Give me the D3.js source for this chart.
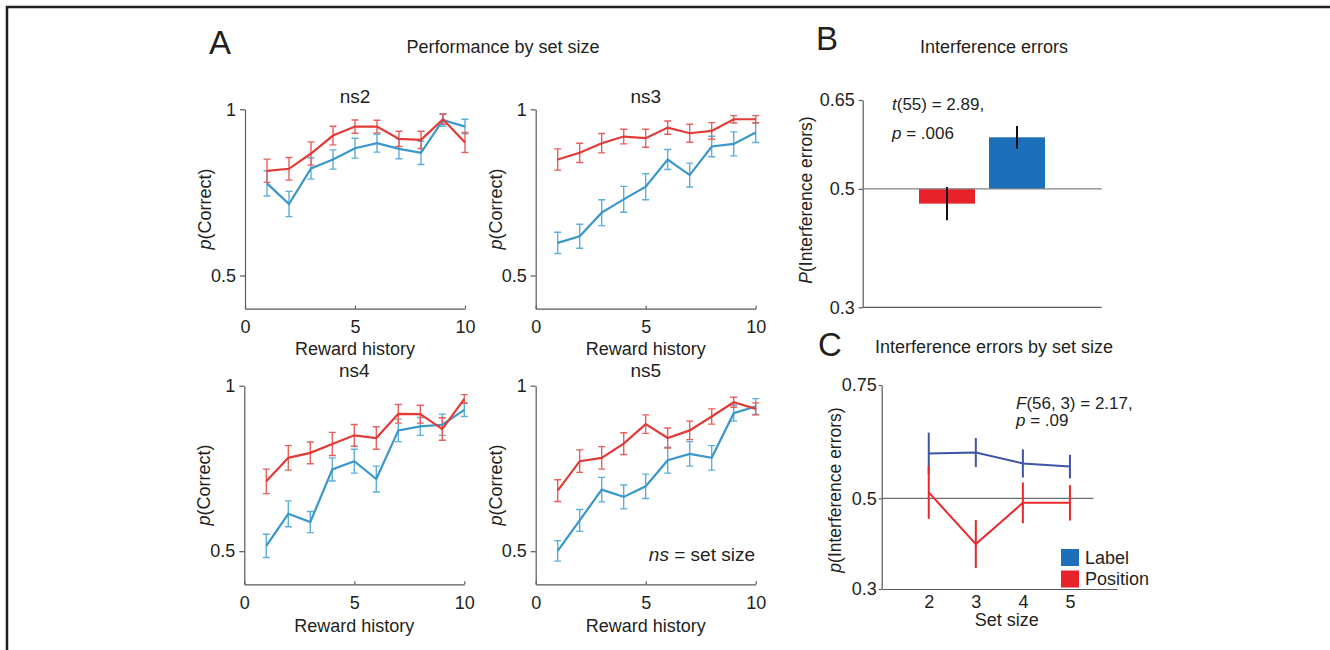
<!DOCTYPE html>
<html>
<head>
<meta charset="utf-8">
<script src="https://cdn.jsdelivr.net/npm/d3@7/dist/d3.min.js"></script>
<style>
  body { margin: 0; background: #fff; }
  svg text { font-family: "Liberation Sans", Arial, Helvetica, sans-serif; fill: #231f20; }
</style>
</head>
<body>
<div id="wrapper"></div>
<script>
// ---- data ----
const rewardHistory = [1, 2, 3, 4, 5, 6, 7, 8, 9, 10];

const ns2Red     = [0.815, 0.821, 0.867, 0.921, 0.948, 0.948, 0.911, 0.908, 0.970, 0.900];
const ns2RedErr  = [0.035, 0.034, 0.035, 0.028, 0.020, 0.019, 0.023, 0.026, 0.015, 0.030];
const ns2Blue    = [0.777, 0.715, 0.822, 0.849, 0.883, 0.898, 0.881, 0.869, 0.968, 0.948];
const ns2BlueErr = [0.038, 0.038, 0.032, 0.029, 0.030, 0.027, 0.030, 0.035, 0.019, 0.022];

const ns3Red     = [0.849, 0.869, 0.898, 0.918, 0.913, 0.945, 0.928, 0.935, 0.970, 0.970];
const ns3RedErr  = [0.032, 0.029, 0.029, 0.022, 0.027, 0.020, 0.027, 0.025, 0.011, 0.011];
const ns3Blue    = [0.598, 0.618, 0.689, 0.729, 0.767, 0.849, 0.802, 0.888, 0.896, 0.930];
const ns3BlueErr = [0.032, 0.036, 0.039, 0.039, 0.039, 0.030, 0.036, 0.031, 0.036, 0.030];

const ns4Red     = [0.711, 0.782, 0.797, 0.824, 0.850, 0.842, 0.915, 0.914, 0.869, 0.960];
const ns4RedErr  = [0.037, 0.037, 0.033, 0.035, 0.033, 0.034, 0.028, 0.027, 0.034, 0.013];
const ns4Blue    = [0.516, 0.613, 0.588, 0.747, 0.772, 0.718, 0.865, 0.877, 0.882, 0.927];
const ns4BlueErr = [0.035, 0.039, 0.032, 0.035, 0.036, 0.039, 0.034, 0.027, 0.032, 0.020];

const ns5Red     = [0.683, 0.772, 0.782, 0.825, 0.884, 0.842, 0.865, 0.907, 0.950, 0.930];
const ns5RedErr  = [0.033, 0.034, 0.034, 0.033, 0.028, 0.030, 0.028, 0.023, 0.015, 0.018];
const ns5Blue    = [0.501, 0.593, 0.686, 0.664, 0.696, 0.775, 0.794, 0.782, 0.917, 0.937];
const ns5BlueErr = [0.031, 0.033, 0.037, 0.036, 0.037, 0.039, 0.037, 0.037, 0.024, 0.024];

const perfYTicks = [0.5, 1];
const perfXTicks = [0, 5, 10];

const barCategories = ["Position", "Label"];
const barValues = [0.475, 0.587];
const barErr = [0.028, 0.019];
const barYTicks = [0.3, 0.5, 0.65];

const setSizes = [2, 3, 4, 5];
const labelBySize = [0.599, 0.601, 0.577, 0.570];
const labelBySizeErr = [0.046, 0.032, 0.031, 0.026];
const positionBySize = [0.513, 0.399, 0.490, 0.490];
const positionBySizeErr = [0.058, 0.053, 0.045, 0.039];
const sizeYTicks = [0.3, 0.5, 0.75];

const legendLabels = ["Label", "Position"];

// ---- colours ----
const perfRed = "#e23a37", perfRedErr = "#e6605c";
const perfBlue = "#3a97cb", perfBlueErr = "#5eaedb";
const barColors = { Position: "#e8222a", Label: "#1c6fb8" };
const sizeBlue = "#3d55a8", sizeRed = "#e8282d";
const axisColor = "#58595b";
const fs = 18; // most text in the figure

const svg = d3.select("#wrapper")
  .append("svg")
  .attr("width", 1330)
  .attr("height", 650);

// page frame
svg.append("path")
  .attr("d", "M7,650 V7 H1330")
  .attr("fill", "none")
  .attr("stroke", "#231f20")
  .attr("stroke-width", 2.5);

function styleAxis(g, size) {
  g.attr("font-size", size).attr("font-family", null);
  g.selectAll("path.domain").attr("stroke", axisColor).attr("stroke-width", 1.2);
  g.selectAll(".tick line").attr("stroke", axisColor).attr("stroke-width", 1.2);
  g.selectAll(".tick text").attr("fill", "#231f20").attr("font-size", size);
}

function rotatedLabel(x, y, italic, rest, size) {
  const t = svg.append("text")
    .attr("transform", `translate(${x},${y}) rotate(-90)`)
    .attr("text-anchor", "middle")
    .attr("font-size", size);
  t.append("tspan").attr("font-style", "italic").text(italic);
  t.append("tspan").text(rest);
}

// ---- panel A ----
const perfPanels = [
  { name: "ns2", red: ns2Red, redErr: ns2RedErr, blue: ns2Blue, blueErr: ns2BlueErr, left: 245, top: 109.3, bottom: 308.7, titleOff: 6, labelOff: 46 },
  { name: "ns3", red: ns3Red, redErr: ns3RedErr, blue: ns3Blue, blueErr: ns3BlueErr, left: 535.7, top: 109.3, bottom: 308.7, titleOff: 6, labelOff: 46 },
  { name: "ns4", red: ns4Red, redErr: ns4RedErr, blue: ns4Blue, blueErr: ns4BlueErr, left: 244.3, top: 385.7, bottom: 584.3, titleOff: 9, labelOff: 48 },
  { name: "ns5", red: ns5Red, redErr: ns5RedErr, blue: ns5Blue, blueErr: ns5BlueErr, left: 535.7, top: 385.7, bottom: 584.3, titleOff: 9, labelOff: 48 }
];

function drawPerf(p) {
  const xScale = d3.scaleLinear().domain([0, 10]).range([p.left, p.left + 220]);
  const yScale = d3.scaleLinear().domain([0.4, 1]).range([p.bottom, p.top]);

  const yAxis = svg.append("g")
    .attr("transform", `translate(${p.left},0)`)
    .call(d3.axisLeft(yScale).tickValues(perfYTicks).tickFormat(d => d === 1 ? "1" : d3.format(".1f")(d))
      .tickSize(5).tickSizeOuter(0).tickPadding(4));
  styleAxis(yAxis, fs);

  const xAxis = svg.append("g")
    .attr("transform", `translate(0,${p.bottom})`)
    .call(d3.axisBottom(xScale).tickValues(perfXTicks).tickSize(-3).tickSizeOuter(0).tickPadding(12));
  styleAxis(xAxis, fs);

  svg.append("text")
    .attr("x", p.left + 110)
    .attr("y", p.top - p.titleOff)
    .attr("text-anchor", "middle")
    .attr("font-size", 19)
    .text(p.name);

  svg.append("text")
    .attr("x", p.left + 110)
    .attr("y", p.bottom + p.labelOff)
    .attr("text-anchor", "middle")
    .attr("font-size", fs)
    .text("Reward history");

  rotatedLabel(p.left - 34, (p.top + p.bottom) / 2, "p", "(Correct)", fs);

  const line = d3.line().x((d, i) => xScale(rewardHistory[i])).y(d => yScale(d));
  const series = [
    { vals: p.blue, err: p.blueErr, col: perfBlue, errCol: perfBlueErr },
    { vals: p.red, err: p.redErr, col: perfRed, errCol: perfRedErr }
  ];
  series.forEach(s => {
    const errPath = s.vals.map((v, i) => {
      const x = xScale(rewardHistory[i]);
      const y0 = yScale(v - s.err[i]), y1 = yScale(v + s.err[i]);
      return `M${x},${y0}V${y1}M${x - 3.5},${y0}H${x + 3.5}M${x - 3.5},${y1}H${x + 3.5}`;
    }).join("");
    svg.append("path")
      .attr("d", errPath)
      .attr("fill", "none")
      .attr("stroke", s.errCol)
      .attr("stroke-width", 1.4);
  });
  series.forEach(s => {
    svg.append("path")
      .datum(s.vals)
      .attr("d", line)
      .attr("fill", "none")
      .attr("stroke", s.col)
      .attr("stroke-width", 2.2);
  });
}
perfPanels.forEach(drawPerf);

svg.append("text").attr("x", 209).attr("y", 54).attr("font-size", 33).text("A");
svg.append("text").attr("x", 503).attr("y", 53).attr("text-anchor", "middle").attr("font-size", fs).text("Performance by set size");

const nsNote = svg.append("text").attr("x", 755).attr("y", 561).attr("text-anchor", "end").attr("font-size", 19);
nsNote.append("tspan").attr("font-style", "italic").text("ns");
nsNote.append("tspan").text(" = set size");

// ---- panel B ----
function drawBars() {
  const left = 862.7, right = 1101.7;
  const yScale = d3.scaleLinear().domain([0.3, 0.65]).range([307.3, 100]);
  const xScale = d3.scaleBand().domain(barCategories).range([919, 1045]).paddingInner(0.2).paddingOuter(0);

  svg.selectAll(".bar")
    .data(barCategories)
    .join("rect")
    .attr("x", d => xScale(d))
    .attr("width", xScale.bandwidth())
    .attr("y", (d, i) => Math.min(yScale(barValues[i]), yScale(0.5)))
    .attr("height", (d, i) => Math.abs(yScale(barValues[i]) - yScale(0.5)))
    .attr("fill", d => barColors[d]);

  const yAxis = svg.append("g")
    .attr("transform", `translate(${left},0)`)
    .call(d3.axisLeft(yScale).tickValues(barYTicks).tickFormat(d => d === 0.65 ? "0.65" : d3.format(".1f")(d))
      .tickSize(4).tickSizeOuter(0).tickPadding(4));
  styleAxis(yAxis, fs);

  svg.append("line").attr("x1", left).attr("x2", right).attr("y1", yScale(0.3)).attr("y2", yScale(0.3))
    .attr("stroke", axisColor).attr("stroke-width", 1.2);
  svg.append("line").attr("x1", left).attr("x2", right).attr("y1", yScale(0.5)).attr("y2", yScale(0.5))
    .attr("stroke", "#808285").attr("stroke-width", 1.2);

  svg.selectAll(".barErr")
    .data(barCategories)
    .join("line")
    .attr("x1", d => xScale(d) + xScale.bandwidth() / 2)
    .attr("x2", d => xScale(d) + xScale.bandwidth() / 2)
    .attr("y1", (d, i) => yScale(barValues[i] - barErr[i]))
    .attr("y2", (d, i) => yScale(barValues[i] + barErr[i]))
    .attr("stroke", "#111")
    .attr("stroke-width", 2);

  rotatedLabel(812, 200, "P", "(Interference errors)", 17.5);

  const t1 = svg.append("text").attr("x", 892).attr("y", 110).attr("font-size", 17);
  t1.append("tspan").attr("font-style", "italic").text("t");
  t1.append("tspan").text("(55) = 2.89,");
  const t2 = svg.append("text").attr("x", 892).attr("y", 139).attr("font-size", 17);
  t2.append("tspan").attr("font-style", "italic").text("p");
  t2.append("tspan").text(" = .006");
}
drawBars();

svg.append("text").attr("x", 816).attr("y", 50).attr("font-size", 33).text("B");
svg.append("text").attr("x", 994).attr("y", 53).attr("text-anchor", "middle").attr("font-size", fs).text("Interference errors");

// ---- panel C ----
function drawBySize() {
  const xScale = d3.scaleLinear().domain([1, 6]).range([881.7, 1117]);
  const yScale = d3.scaleLinear().domain([0.3, 0.75]).range([589, 385]);

  const yAxis = svg.append("g")
    .attr("transform", `translate(${xScale(1)},0)`)
    .call(d3.axisLeft(yScale).tickValues(sizeYTicks).tickFormat(d => d === 0.75 ? "0.75" : d3.format(".1f")(d))
      .tickSize(3).tickSizeOuter(0).tickPadding(2));
  styleAxis(yAxis, fs);

  const xAxis = svg.append("g")
    .attr("transform", `translate(0,${yScale(0.3)})`)
    .call(d3.axisBottom(xScale).tickValues(setSizes).tickFormat(d3.format("d")).tickSize(0).tickSizeOuter(0).tickPadding(6));
  styleAxis(xAxis, fs);

  svg.append("line").attr("x1", xScale(1)).attr("x2", xScale(5.5)).attr("y1", yScale(0.5)).attr("y2", yScale(0.5))
    .attr("stroke", "#6d6e71").attr("stroke-width", 1.2);

  const line = d3.line().x((d, i) => xScale(setSizes[i])).y(d => yScale(d));
  const series = [
    { vals: labelBySize, err: labelBySizeErr, col: sizeBlue },
    { vals: positionBySize, err: positionBySizeErr, col: sizeRed }
  ];
  series.forEach(s => {
    svg.append("path")
      .datum(s.vals)
      .attr("d", line)
      .attr("fill", "none")
      .attr("stroke", s.col)
      .attr("stroke-width", 2);
    svg.append("g")
      .selectAll("line")
      .data(s.vals)
      .join("line")
      .attr("x1", (d, i) => xScale(setSizes[i]))
      .attr("x2", (d, i) => xScale(setSizes[i]))
      .attr("y1", (d, i) => yScale(d - s.err[i]))
      .attr("y2", (d, i) => yScale(d + s.err[i]))
      .attr("stroke", s.col)
      .attr("stroke-width", 2);
  });

  svg.append("text").attr("x", 1006.7).attr("y", 626).attr("text-anchor", "middle").attr("font-size", fs).text("Set size");
  rotatedLabel(841, 490, "p", "(Interference errors)", 17.5);

  const f1 = svg.append("text").attr("x", 1016).attr("y", 409).attr("font-size", 17);
  f1.append("tspan").attr("font-style", "italic").text("F");
  f1.append("tspan").text("(56, 3) = 2.17,");
  const f2 = svg.append("text").attr("x", 1016).attr("y", 426).attr("font-size", 17);
  f2.append("tspan").attr("font-style", "italic").text("p");
  f2.append("tspan").text(" = .09");

  // legend
  const legendCols = [barColors.Label, barColors.Position];
  const legend = svg.append("g").attr("transform", "translate(1061,549)");
  legend.selectAll("rect")
    .data(legendLabels)
    .join("rect")
    .attr("x", 0)
    .attr("y", (d, i) => i * 21.5)
    .attr("width", 18)
    .attr("height", 17)
    .attr("fill", (d, i) => legendCols[i]);
  legend.selectAll("text")
    .data(legendLabels)
    .join("text")
    .attr("x", 24)
    .attr("y", (d, i) => 14.5 + i * 21)
    .attr("font-size", fs)
    .text(d => d);
}
drawBySize();

svg.append("text").attr("x", 818).attr("y", 356).attr("font-size", 33).text("C");
svg.append("text").attr("x", 994).attr("y", 353).attr("text-anchor", "middle").attr("font-size", fs).text("Interference errors by set size");
</script>
</body>
</html>
